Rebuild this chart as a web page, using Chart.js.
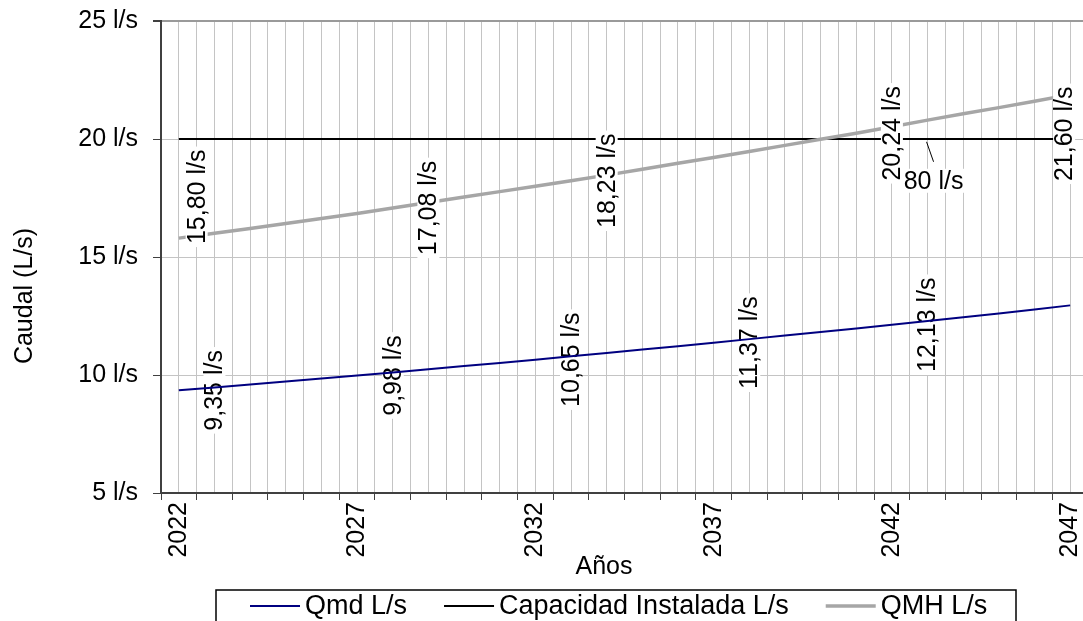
<!DOCTYPE html>
<html>
<head>
<meta charset="utf-8">
<script src="https://cdn.jsdelivr.net/npm/chart.js@4.4.1/dist/chart.umd.min.js"></script>
<style>
  html, body { margin: 0; padding: 0; background: #fff; overflow: hidden; }
  #wrap { width: 1110px; height: 621px; }
</style>
</head>
<body>
<div id="wrap"><canvas id="caudalChart"></canvas></div>
<script>
// periodo de diseño
const years = [2022, 2023, 2024, 2025, 2026, 2027, 2028, 2029, 2030, 2031, 2032, 2033, 2034,
  2035, 2036, 2037, 2038, 2039, 2040, 2041, 2042, 2043, 2044, 2045, 2046, 2047];

// caudal medio diario
const qmd = [9.35, 9.47, 9.60, 9.72, 9.85, 9.98, 10.11, 10.24, 10.38, 10.51, 10.65, 10.79, 10.93,
  11.08, 11.22, 11.37, 11.52, 11.67, 11.82, 11.97, 12.13, 12.29, 12.45, 12.61, 12.78, 12.95];

// capacidad instalada
const capacidad = [20, 20, 20, 20, 20, 20, 20, 20, 20, 20, 20, 20, 20,
  20, 20, 20, 20, 20, 20, 20, 20, 20, 20, 20, 20, 20];

// caudal maximo horario
const qmh = [15.80, 16.01, 16.21, 16.42, 16.63, 16.84, 17.08, 17.31, 17.54, 17.77, 18.00, 18.23, 18.47,
  18.72, 18.97, 19.22, 19.47, 19.73, 19.99, 20.24, 20.52, 20.80, 21.07, 21.33, 21.60, 21.88];

const yearLabels = [2022, 2027, 2032, 2037, 2042, 2047];
const seriesNames = ['Qmd L/s', 'Capacidad Instalada L/s', 'QMH L/s'];
const seriesColors = ['#000080', '#000000', '#a6a6a6'];

// etiquetas: [indice, corrimiento en años, corrimiento en l/s]
const qmdLabelPos = [[0, 1, 0], [5, 1, 0], [10, 1, 0], [15, 1, 0], [20, 1, 0], [25, 1, 0]];
const qmhLabelPos = [[0, 0.5, 1.75], [6, 1, 0], [11, 1, 0], [19, 1, 0], [24, 0.83, -1.38]];
const qmhFlatLabel = [21, -0.32, -2.57];

const FONT = '"Liberation Sans", Arial, sans-serif';

function fmt(v) {
  return v.toFixed(2).replace('.', ',') + ' l/s';
}

function vLabel(ctx, text, x, y) {
  ctx.save();
  ctx.translate(x, y);
  ctx.rotate(-Math.PI / 2);
  ctx.font = '25px ' + FONT;
  const w = ctx.measureText(text).width;
  ctx.fillStyle = '#fff';
  ctx.fillRect(-w / 2 - 3, -11, w + 6, 22);
  ctx.fillStyle = '#000';
  ctx.textAlign = 'center';
  ctx.textBaseline = 'middle';
  ctx.fillText(text, 0, 1);
  ctx.restore();
}

const labelsPlugin = {
  id: 'labelsPlugin',
  beforeDatasetsDraw(chart) {
    const ctx = chart.ctx, xs = chart.scales.x, ys = chart.scales.y;
    qmdLabelPos.forEach(([i, dx, dy]) => {
      vLabel(ctx, fmt(qmd[i]), xs.getPixelForValue(years[i] + dx), ys.getPixelForValue(qmd[i] + dy));
    });
  },
  afterDatasetsDraw(chart) {
    const ctx = chart.ctx, xs = chart.scales.x, ys = chart.scales.y;
    // etiqueta horizontal con linea guia (tapada en parte por la de 2041)
    const [fi, fdx, fdy] = qmhFlatLabel;
    const fx = xs.getPixelForValue(years[fi] + fdx);
    const fy = ys.getPixelForValue(qmh[fi] + fdy);
    const px = xs.getPixelForValue(years[fi]);
    ctx.save();
    ctx.strokeStyle = '#000';
    ctx.lineWidth = 1;
    ctx.beginPath();
    ctx.moveTo(px - 1, ys.getPixelForValue(19.88));
    ctx.lineTo(px + 6, fy - 19);
    ctx.stroke();
    ctx.beginPath();
    ctx.rect(xs.getPixelForValue(years[19] + 1) + 11, 0, 400, chart.height);
    ctx.clip();
    ctx.font = '25px ' + FONT;
    const fw = ctx.measureText(fmt(qmh[fi])).width;
    ctx.fillStyle = '#fff';
    ctx.fillRect(fx - fw / 2 - 3, fy - 12, fw + 6, 24);
    ctx.fillStyle = '#000';
    ctx.textAlign = 'center';
    ctx.textBaseline = 'middle';
    ctx.fillText(fmt(qmh[fi]), fx, fy + 1);
    ctx.restore();

    qmhLabelPos.forEach(([i, dx, dy]) => {
      vLabel(ctx, fmt(qmh[i]), xs.getPixelForValue(years[i] + dx), ys.getPixelForValue(qmh[i] + dy));
    });
  },
  afterDraw(chart) {
    const ctx = chart.ctx;
    ctx.save();
    ctx.fillStyle = '#000';
    ctx.font = '25px ' + FONT;
    ctx.textAlign = 'center';
    ctx.textBaseline = 'middle';
    ctx.fillText('Años', 604, 567);
    ctx.translate(25, 296);
    ctx.rotate(-Math.PI / 2);
    ctx.fillText('Caudal (L/s)', 0, 0);
    ctx.restore();

    // leyenda
    ctx.save();
    ctx.strokeStyle = '#000';
    ctx.lineWidth = 1.5;
    ctx.strokeRect(216, 590, 800, 60);
    ctx.font = '27px ' + FONT;
    ctx.textBaseline = 'middle';
    ctx.textAlign = 'left';
    let x = 250;
    const y = 606;
    seriesNames.forEach((name, i) => {
      ctx.strokeStyle = seriesColors[i];
      ctx.lineWidth = i === 2 ? 3.5 : 2;
      ctx.beginPath();
      ctx.moveTo(x, y);
      ctx.lineTo(x + 50, y);
      ctx.stroke();
      ctx.fillStyle = '#000';
      ctx.fillText(name, x + 55, y + 1);
      x += 55 + ctx.measureText(name).width + 37;
    });
    ctx.restore();
  }
};

const datasets = [
  { label: seriesNames[0], data: years.map((yr, i) => ({ x: yr, y: qmd[i] })),
    borderColor: seriesColors[0], borderWidth: 2, order: 1 },
  { label: seriesNames[1], data: years.map((yr, i) => ({ x: yr, y: capacidad[i] })),
    borderColor: seriesColors[1], borderWidth: 2, order: 2 },
  { label: seriesNames[2], data: years.map((yr, i) => ({ x: yr, y: qmh[i] })),
    borderColor: seriesColors[2], borderWidth: 3.5, order: 0 }
];

const config = {
  type: 'line',
  data: { datasets: datasets },
  options: {
    responsive: true,
    maintainAspectRatio: false,
    animation: false,
    elements: { point: { radius: 0 }, line: { tension: 0, fill: false } },
    layout: { padding: { top: 21, right: 22, bottom: 0, left: 0 } },
    plugins: { legend: { display: false }, tooltip: { enabled: false } },
    scales: {
      x: {
        type: 'linear',
        min: 2021.5,
        max: 2047.5,
        afterFit(scale) {
          scale.height = 128;
          scale.paddingLeft = 0;
          scale.paddingRight = 0;
        },
        grid: {
          color: ctx => ctx.tick && ctx.tick.value === 2021.5 ? 'rgba(0,0,0,0)' : '#c4c4c4',
          lineWidth: 1,
          tickLength: 7,
          tickColor: ctx => Number.isInteger(ctx.tick.value) ? 'rgba(0,0,0,0)' : '#404040'
        },
        border: { color: '#404040', width: 2 },
        ticks: {
          stepSize: 0.5,
          autoSkip: false,
          minRotation: 90,
          maxRotation: 90,
          padding: 2,
          color: '#000',
          font: { family: FONT, size: 25 },
          callback: v => yearLabels.includes(v) ? String(v) : ''
        }
      },
      y: {
        min: 5,
        max: 25,
        afterFit(scale) {
          scale.width = 161;
          scale.paddingTop = 0;
          scale.paddingBottom = 0;
        },
        grid: {
          color: ctx => ctx.tick && ctx.tick.value === 25 ? '#9a9a9a' : '#c4c4c4',
          lineWidth: ctx => ctx.tick && ctx.tick.value === 25 ? 2 : 1,
          tickLength: 8,
          tickColor: '#404040'
        },
        border: { color: '#404040', width: 2 },
        ticks: {
          stepSize: 5,
          padding: 15,
          color: '#000',
          font: { family: FONT, size: 25 },
          callback: v => v + ' l/s'
        }
      }
    }
  },
  plugins: [labelsPlugin]
};

const caudalChart = new Chart(document.getElementById('caudalChart'), config);
</script>
</body>
</html>
